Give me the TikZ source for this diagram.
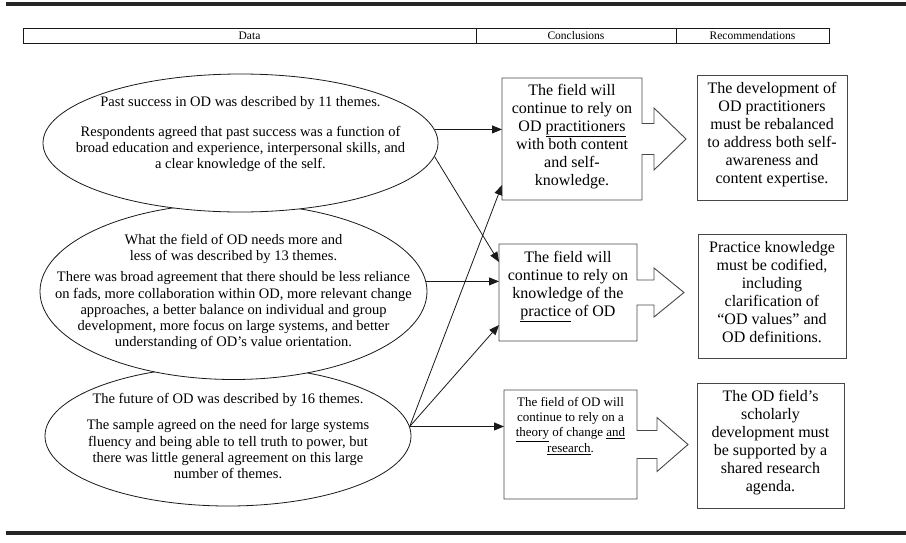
\documentclass[tikz,border=0pt]{standalone}
\usepackage{fontspec}
\setmainfont{Liberation Serif}
\usepackage{xcolor}
\colorlet{colorRule}{black!85}
\colorlet{colorLine}{black!90}
\colorlet{colorBox}{black!72}
\usetikzlibrary{arrows.meta, calc, positioning, shapes.geometric}
\tikzset{
  data ellipse/.style={ellipse, draw=colorLine, fill=white, line width=0.8pt, inner sep=0pt},
  data text/.style={align=center, inner sep=0pt, font=\fontsize{14.5}{16.2}\selectfont},
  box text/.style={align=center, inner sep=0pt, anchor=north, font=\fontsize{16}{18}\selectfont},
  small box text/.style={box text, font=\fontsize{13}{15.3}\selectfont},
  plain box/.style={inner sep=0pt, outer sep=0pt},
  rec box/.style={plain box, draw=colorBox, line width=0.9pt},
  head cell/.style={draw=colorLine, line width=0.8pt, inner sep=0pt, outer sep=0pt, minimum height=15, font=\fontsize{11.5}{12}\selectfont},
  link/.style={-{Triangle[length=10pt, width=8pt]}, line width=0.8pt, colorLine},
}
\newcommand{\calloutbox}[5]{%
  \draw[colorBox, line width=0.9pt] (#1.south east) -- (#1.south west) -- (#1.north west) -- (#1.north east)
    -- ($(#1.east)+(0,-#2)$) -- ++(#3,0) -- ++(0,#2-#4) -- ($(#1.east)+(#3+#5,0)$)
    -- ($(#1.east)+(#3,#4)$) -- ++(0,#2-#4) -- ($(#1.east)+(0,#2)$) -- cycle;
}

\begin{document}
\begin{tikzpicture}[x=1pt, y=-1pt, line join=miter]
\useasboundingbox (0,0) rectangle (906,542);
\draw[colorRule, line width=3.5pt] (6,4) -- (906,4);
\draw[colorRule, line width=3.5pt] (6,533) -- (906,533);

\node[head cell, minimum width=453] (hdata) at (249.5,35.5) {Data};
\node[head cell, minimum width=200, right=0pt of hdata] (hconc) {Conclusions};
\node[head cell, minimum width=153, right=0pt of hconc] (hrec) {Recommendations};

\node[data ellipse, minimum width=366, minimum height=140] (e3) at (228,436) {};
\node[data text] (e3text) at (228,436) {The future of OD was described by 16 themes.\\[10pt]The sample agreed on the need for large systems\\fluency and being able to tell truth to power, but\\there was little general agreement on this large\\number of themes.};
\node[data ellipse, minimum width=387, minimum height=176] (e2) at (233.5,291.5) {};
\node[data text] (e2text) at (233.5,292) {What the field of OD needs more and\\less of was described by 13 themes.\\[5pt]There was broad agreement that there should be less reliance\\on fads, more collaboration within OD, more relevant change\\approaches, a better balance on individual and group\\development, more focus on large systems, and better\\understanding of OD’s value orientation.};
\node[data ellipse, minimum width=395, minimum height=138] (e1) at (240.5,143) {};
\node[data text] (e1text) at (240.5,134) {Past success in OD was described by 11 themes.\\[14pt]Respondents agreed that past success was a function of\\broad education and experience, interpersonal skills, and\\a clear knowledge of the self.};

\node[plain box, minimum width=140, minimum height=122] (c1) at (572,139) {};
\node[plain box, minimum width=138, minimum height=97] (c2) at (568,292.5) {};
\node[plain box, minimum width=133, minimum height=109] (c3) at (570.5,444.5) {};
\calloutbox{c1}{15.5}{12}{31}{32}
\calloutbox{c2}{12.5}{17}{24.5}{30}
\calloutbox{c3}{14}{20}{27}{31}
\node[box text] (c1text) at ([yshift=-6pt]c1.north) {The field will\\continue to rely on\\OD \underline{practitioners}\\with both content\\and self-\\knowledge.};
\node[box text] (c2text) at ([yshift=-7pt]c2.north) {The field will\\continue to rely on\\knowledge of the\\\underline{practice} of OD};
\node[small box text] (c3text) at ([yshift=-7pt]c3.north) {The field of OD will\\continue to rely on a\\\underline{theory} of change \underline{and}\\\underline{research}.};

\node[rec box, minimum width=150, minimum height=125] (r1) at (772,137.5) {};
\node[rec box, minimum width=148, minimum height=124] (r2) at (772,296) {};
\node[rec box, minimum width=147, minimum height=125] (r3) at (770.5,445.5) {};
\node[box text] (r1text) at ([yshift=-7pt]r1.north) {The development of\\OD practitioners\\must be rebalanced\\to address both self-\\awareness and\\content expertise.};
\node[box text] (r2text) at ([yshift=-7pt]r2.north) {Practice knowledge\\must be codified,\\including\\clarification of\\“OD values” and\\OD definitions.};
\node[box text] (r3text) at ([yshift=-7pt]r3.north) {The OD field’s\\scholarly\\development must\\be supported by a\\shared research\\agenda.};

\draw[link] (e1.4) -- (e1.4 -| c1.west);
\draw[link] (e1.-4) -- ([yshift=30.5pt]c2.west);
\draw[link] (e2.3) -- (e2.3 -| c2.west);
\draw[link] (e3.3) -- ([yshift=-46pt]c1.west);
\draw[link] (e3.3) -- ([yshift=-32.5pt]c2.west);
\draw[link] (e3.3) -- (e3.3 -| c3.west);
\end{tikzpicture}
\end{document}
